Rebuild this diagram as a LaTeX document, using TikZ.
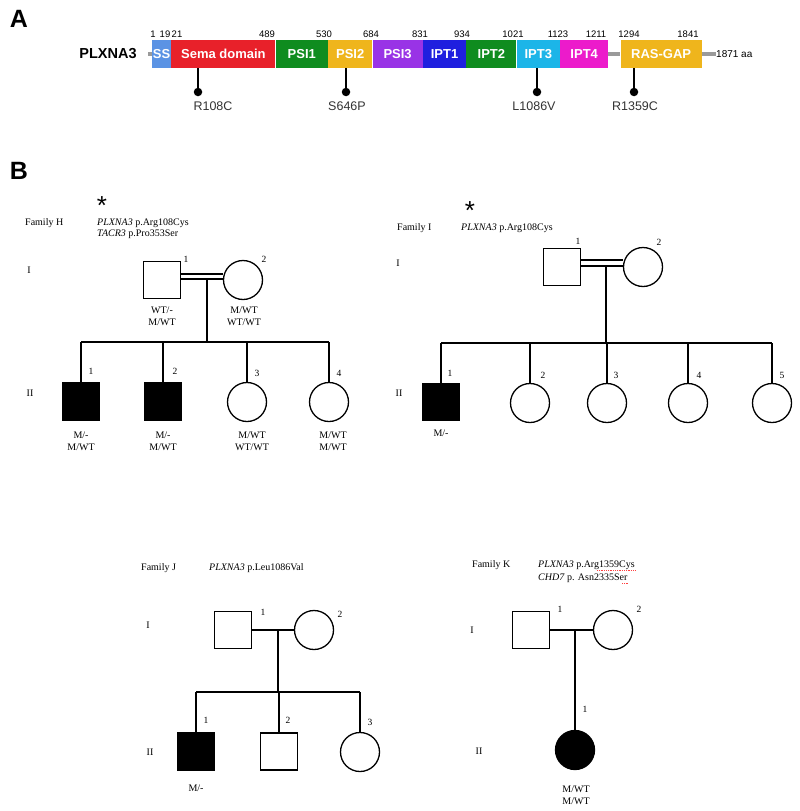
\documentclass[tikz,border=0pt]{standalone}
\usepackage{fontspec}
\setmainfont{Liberation Serif}
\setsansfont{Liberation Sans}
\usetikzlibrary{positioning}

\definecolor{ssblue}{HTML}{5B93E4}
\definecolor{semared}{HTML}{E8212A}
\definecolor{psigreen}{HTML}{0F8C1F}
\definecolor{psigold}{HTML}{EFB51C}
\definecolor{psipurple}{HTML}{9933E6}
\definecolor{iptblue}{HTML}{1F1FDF}
\definecolor{iptcyan}{HTML}{1CB5E8}
\definecolor{iptpink}{HTML}{EC1BCB}
\definecolor{linkgray}{HTML}{9A9A9A}

\begin{document}
\begin{tikzpicture}[x=1pt,y=-1pt,
  dom/.style={rectangle, minimum height=28pt, text=white, font=\sffamily\bfseries\fontsize{13}{13}\selectfont},
  aanum/.style={anchor=base, font=\sffamily\fontsize{9.5}{9.5}\selectfont},
  backbone/.style={linkgray, line width=3.5pt},
  mutdot/.style={circle, fill=black, minimum size=8.5pt},
  stem/.style={line width=1.3pt},
  mutlabel/.style={font=\sffamily\fontsize{12.5}{12.5}\selectfont, text=black!80},
  panel/.style={font=\sffamily\bfseries\fontsize{25}{25}\selectfont},
  male/.style={rectangle, draw, line width=1.3pt, minimum size=37pt},
  female/.style={circle, draw, line width=1.3pt, minimum size=39pt},
  affected/.style={fill=black},
  ped/.style={line width=1.5pt},
  txt/.style={font=\fontsize{10}{12}\selectfont},
  geno/.style={font=\fontsize{10}{12}\selectfont, align=center},
  idx/.style={font=\fontsize{9.5}{9.5}\selectfont},
  star/.style={font=\sffamily\fontsize{26}{26}\selectfont, text height=19pt, text depth=-10.5pt},
  squiggle/.style={red!75, line width=0.6pt, dash pattern=on 1pt off 0.8pt}]
\tikzstyle{every node}+=[inner sep=0pt]
\useasboundingbox (0,0) rectangle (800,811);

\node[panel] (pa) at (19,19) {A};
\node[font=\sffamily\bfseries\fontsize{14.5}{14.5}\selectfont] (prot) at (108,54) {PLXNA3};

\coordinate (nterm) at (148,54);
\node[dom, fill=ssblue, minimum width=19pt] (ss) at (161.5,54) {SS};
\node[dom, fill=semared, minimum width=104pt, right=0pt of ss] (sema) {Sema domain};
\node[dom, fill=psigreen, minimum width=52pt, right=0pt of sema] (psi1) {PSI1};
\node[dom, fill=psigold, minimum width=44pt, right=0pt of psi1] (psi2) {PSI2};
\node[dom, fill=psipurple, minimum width=50pt, right=0pt of psi2] (psi3) {PSI3};
\node[dom, fill=iptblue, minimum width=43pt, right=0pt of psi3] (ipt1) {IPT1};
\node[dom, fill=psigreen, minimum width=50pt, right=0pt of ipt1] (ipt2) {IPT2};
\node[dom, fill=iptcyan, minimum width=43pt, right=0pt of ipt2] (ipt3) {IPT3};
\node[dom, fill=iptpink, minimum width=48pt, right=0pt of ipt3] (ipt4) {IPT4};
\node[dom, fill=psigold, minimum width=81pt, right=12pt of ipt4] (ras) {RAS-GAP};
\node[anchor=west, font=\sffamily\fontsize{10}{10}\selectfont] (cterm) at (716,54) {1871 aa};
\draw[backbone] (nterm) -- (ss.west);
\draw[backbone] (ipt4.east) -- (ras.west);
\draw[backbone] (ras.east) -- (cterm.west);

\foreach \x/\t in {153/1, 165/19, 177/21, 267/489, 324/530, 371/684, 420/831, 462/934, 513/1021, 558/1123, 596/1211, 629/1294, 688/1841}
  \node[aanum] (aa\t) at (\x,37.5) {\t};

\foreach \x/\n/\d/\lx in {198/R108C/sema/213, 346/S646P/psi2/347, 537/L1086V/ipt3/534, 634/R1359C/ras/635} {
  \node[mutdot] (dot\n) at (\x,92) {};
  \draw[stem] (dot\n.center) -- (dot\n.center |- \d.south);
  \node[mutlabel] (lab\n) at (\lx,106) {\n};
}

\node[panel] (pb) at (19,171) {B};

\node[star] (hstar) at (102,204.5) {*};
\node[txt, anchor=west] (hname) at (25,223) {Family H};
\node[txt, anchor=west] (hgene1) at (97,223) {\textit{PLXNA3} p.Arg108Cys};
\node[txt, anchor=west] (hgene2) at (97,234) {\textit{TACR3} p.Pro353Ser};
\node[txt] (hgen1) at (29,270) {I};
\node[txt] (hgen2) at (30,393) {II};
\node[male] (h11) at (162,280) {};
\node[female] (h12) at (243,280) {};
\node[idx] (h11n) at (186,259) {1};
\node[idx] (h12n) at (264,259) {2};
\draw[ped] ([yshift=6pt]h11.east) -- ([yshift=6pt]h12.west);
\draw[ped] ([yshift=1pt]h11.east) -- ([yshift=1pt]h12.west);
\coordinate (hm) at (207,279);
\coordinate (hsib) at (0,342);
\node[male, affected] (h21) at (81,401.5) {};
\node[male, affected] (h22) at (163,401.5) {};
\node[female] (h23) at (247,402) {};
\node[female] (h24) at (329,402) {};
\draw[ped] (hm) -- (hm |- hsib);
\draw[ped] (h21.north |- hsib) -- (h24.north |- hsib);
\foreach \c in {h21,h22,h23,h24}
  \draw[ped] (\c.north) -- (\c.north |- hsib);
\node[idx] (h21n) at (91,371) {1};
\node[idx] (h22n) at (175,371) {2};
\node[idx] (h23n) at (257,373) {3};
\node[idx] (h24n) at (339,373) {4};
\node[geno] (h11g) at (162,316) {WT/-\\M/WT};
\node[geno] (h12g) at (244,316) {M/WT\\WT/WT};
\node[geno] (h21g) at (81,441) {M/-\\M/WT};
\node[geno] (h22g) at (163,441) {M/-\\M/WT};
\node[geno] (h23g) at (252,441) {M/WT\\WT/WT};
\node[geno] (h24g) at (333,441) {M/WT\\M/WT};

\node[star] (istar) at (470,210) {*};
\node[txt, anchor=west] (iname) at (397,228) {Family I};
\node[txt, anchor=west] (igene) at (461,228) {\textit{PLXNA3} p.Arg108Cys};
\node[txt] (igen1) at (398,263) {I};
\node[txt] (igen2) at (399,393) {II};
\node[male] (i11) at (562,267) {};
\node[female] (i12) at (643,267) {};
\node[idx] (i11n) at (578,241) {1};
\node[idx] (i12n) at (659,242) {2};
\draw[ped] ([yshift=7pt]i11.east) -- ([yshift=7pt]i12.west);
\draw[ped] ([yshift=1pt]i11.east) -- ([yshift=1pt]i12.west);
\coordinate (im) at (606,266);
\coordinate (isib) at (0,343);
\node[male, affected] (i21) at (441,402) {};
\node[female] (i22) at (530,403) {};
\node[female] (i23) at (607,403) {};
\node[female] (i24) at (688,403) {};
\node[female] (i25) at (772,403) {};
\draw[ped] (im) -- (im |- isib);
\draw[ped] (i21.north |- isib) -- (i25.north |- isib);
\foreach \c in {i21,i22,i23,i24,i25}
  \draw[ped] (\c.north) -- (\c.north |- isib);
\node[idx] (i21n) at (450,373) {1};
\node[idx] (i22n) at (543,375) {2};
\node[idx] (i23n) at (616,375) {3};
\node[idx] (i24n) at (699,375) {4};
\node[idx] (i25n) at (782,375) {5};
\node[geno] (i21g) at (441,433) {M/-};

\node[txt, anchor=west] (jname) at (141,568) {Family J};
\node[txt, anchor=west] (jgene) at (209,568) {\textit{PLXNA3} p.Leu1086Val};
\node[txt] (jgen1) at (148,625) {I};
\node[txt] (jgen2) at (150,752) {II};
\node[male] (j11) at (233,630) {};
\node[female] (j12) at (314,630) {};
\node[idx] (j11n) at (263,612) {1};
\node[idx] (j12n) at (340,614) {2};
\draw[ped] (j11.east) -- (j12.west);
\coordinate (jm) at (278,630);
\coordinate (jsib) at (0,692);
\node[male, affected] (j21) at (196,751.5) {};
\node[male] (j22) at (279,751.5) {};
\node[female] (j23) at (360,752) {};
\draw[ped] (jm) -- (jm |- jsib);
\draw[ped] (j21.north |- jsib) -- (j23.north |- jsib);
\foreach \c in {j21,j22,j23}
  \draw[ped] (\c.north) -- (\c.north |- jsib);
\node[idx] (j21n) at (206,720) {1};
\node[idx] (j22n) at (288,720) {2};
\node[idx] (j23n) at (370,722) {3};
\node[geno] (j21g) at (196,788) {M/-};

\node[txt, anchor=west] (kname) at (472,565) {Family K};
\node[txt, anchor=west] (kgene1) at (538,565) {\textit{PLXNA3} p.Arg1359Cys};
\node[txt, anchor=west] (kgene2) at (538,578) {\textit{CHD7} p. Asn2335Ser};
\draw[squiggle] (597,570.5) -- (kgene1.east |- 0,570.5);
\draw[squiggle] (622,583.5) -- (kgene2.east |- 0,583.5);
\node[txt] (kgen1) at (472,630) {I};
\node[txt] (kgen2) at (479,751) {II};
\node[male] (k11) at (531,630) {};
\node[female] (k12) at (613,630) {};
\node[idx] (k11n) at (560,609) {1};
\node[idx] (k12n) at (639,609) {2};
\draw[ped] (k11.east) -- (k12.west);
\coordinate (km) at (575,630);
\node[female, affected] (k21) at (575,750) {};
\draw[ped] (km) -- (k21.north);
\node[idx] (k21n) at (585,709) {1};
\node[geno] (k21g) at (576,795) {M/WT\\M/WT};
\end{tikzpicture}
\end{document}
